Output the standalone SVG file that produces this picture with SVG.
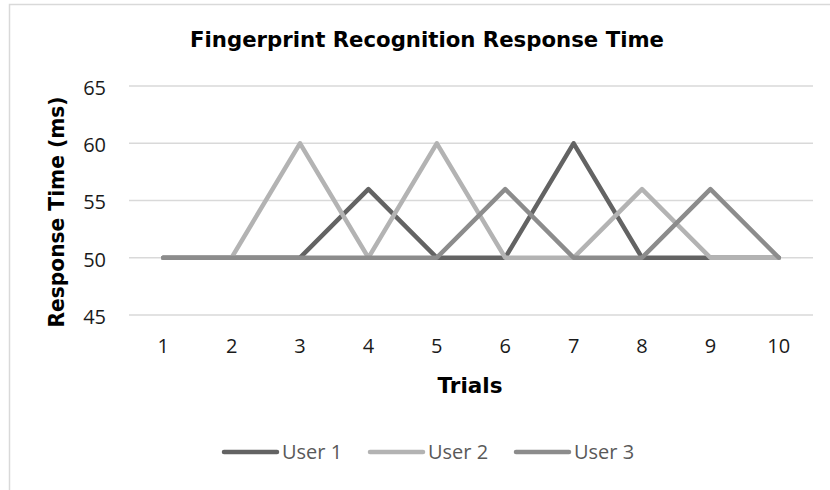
<svg xmlns="http://www.w3.org/2000/svg" width="830" height="490" viewBox="0 0 830 490">
<style>
.grid{stroke:#d9d9d9;stroke-width:1.5;fill:none}
.tick{font-family:"Open Sans","Liberation Sans",sans-serif;font-size:20px;fill:#1a1a1a}
.ttl{font-family:"DejaVu Sans","Liberation Sans",sans-serif;font-weight:bold;fill:#000}
.s{fill:none;stroke-width:4.5;stroke-linejoin:round;stroke-linecap:round}
.u1{stroke:#636363}.u2{stroke:#b3b3b3}.u3{stroke:#8c8c8c}
.leg{font-family:"Open Sans","Liberation Sans",sans-serif;font-size:20px;fill:#595959}
</style>
<rect x="0" y="0" width="830" height="490" fill="#fff"/>
<path d="M9.5 490 V4.5 H830" fill="none" stroke="#d9d9d9" stroke-width="1.5"/>
<text class="ttl" x="427" y="47" font-size="20.5" text-anchor="middle" textLength="474" lengthAdjust="spacingAndGlyphs">Fingerprint Recognition Response Time</text>
<g id="grid">
<line class="grid" x1="129" y1="86.1" x2="813" y2="86.1"/>
<line class="grid" x1="129" y1="143.3" x2="813" y2="143.3"/>
<line class="grid" x1="129" y1="200.5" x2="813" y2="200.5"/>
<line class="grid" x1="129" y1="257.7" x2="813" y2="257.7"/>
<line class="grid" x1="129" y1="314.9" x2="813" y2="314.9"/>
</g>
<g id="y-axis" class="tick" text-anchor="end">
<text x="106" y="95">65</text>
<text x="106" y="152">60</text>
<text x="106" y="209">55</text>
<text x="106" y="267">50</text>
<text x="106" y="324">45</text>
</g>
<g id="x-axis" class="tick" text-anchor="middle">
<text x="163.2" y="353">1</text>
<text x="231.6" y="353">2</text>
<text x="300" y="353">3</text>
<text x="368.4" y="353">4</text>
<text x="436.8" y="353">5</text>
<text x="505.2" y="353">6</text>
<text x="573.6" y="353">7</text>
<text x="642" y="353">8</text>
<text x="710.4" y="353">9</text>
<text x="778.8" y="353">10</text>
</g>
<text class="ttl" x="470" y="393" font-size="20.5" text-anchor="middle" textLength="65" lengthAdjust="spacingAndGlyphs">Trials</text>
<text class="ttl" transform="translate(64 212) rotate(-90)" x="0" y="0" font-size="20.5" text-anchor="middle" textLength="231" lengthAdjust="spacingAndGlyphs">Response Time (ms)</text>
<g id="connectors">
<polyline id="user1" class="s u1" points="163.2,257.7 231.6,257.7 300,257.7 368.4,189.1 436.8,257.7 505.2,257.7 573.6,143.3 642,257.7 710.4,257.7 778.8,257.7"/>
<polyline id="user2" class="s u2" points="163.2,257.7 231.6,257.7 300,143.3 368.4,257.7 436.8,143.3 505.2,257.7 573.6,257.7 642,189.1 710.4,257.7 778.8,257.7"/>
<polyline id="user3" class="s u3" points="163.2,257.7 231.6,257.7 300,257.7 368.4,257.7 436.8,257.7 505.2,189.1 573.6,257.7 642,257.7 710.4,189.1 778.8,257.7"/>
</g>
<g id="legend">
<line class="s u1" x1="224" y1="452" x2="277" y2="452"/>
<text class="leg" x="282" y="459">User 1</text>
<line class="s u2" x1="370" y1="452" x2="423" y2="452"/>
<text class="leg" x="428" y="459">User 2</text>
<line class="s u3" x1="516" y1="452" x2="569" y2="452"/>
<text class="leg" x="574" y="459">User 3</text>
</g>
</svg>
